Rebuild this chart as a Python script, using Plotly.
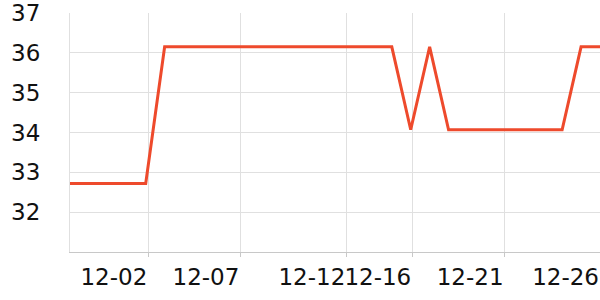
import plotly.graph_objects as go
import pandas as pd

dates = pd.date_range("2023-11-28", "2023-12-26", freq="D").strftime("%Y-%m-%d").tolist()
values = [32.72, 32.72, 32.72, 32.72, 32.72,
          36.15, 36.15, 36.15, 36.15, 36.15, 36.15, 36.15, 36.15, 36.15, 36.15, 36.15, 36.15, 36.15,
          34.07, 36.15, 34.07,
          34.07, 34.07, 34.07, 34.07, 34.07, 34.07,
          36.15, 36.15]

tick_times = ["2023-12-02 03:17", "2023-12-07 00:00", "2023-12-12 14:20",
              "2023-12-16 01:55", "2023-12-20 23:00", "2023-12-26 00:00"]
tick_labels = ["12-02", "12-07", "12-12", "12-16", "12-21", "12-26"]
y_ticks = [32, 33, 34, 35, 36, 37]

fig = go.Figure()
fig.add_trace(go.Scatter(
    x=dates, y=values, mode="lines",
    line=dict(color="#ee4a2c", width=3),
    hoverinfo="skip", showlegend=False,
))

font = dict(family="DejaVu Sans", size=23, color="#111111")
fig.update_layout(
    width=600, height=300,
    margin=dict(l=70, r=0, t=10, b=48),
    paper_bgcolor="white", plot_bgcolor="white",
    font=font,
)
fig.update_xaxes(
    type="date",
    range=[dates[0], dates[-1]],
    tickvals=tick_times, ticktext=tick_labels,
    ticklabelposition="outside left", tickangle=0,
    ticklabeloverflow="allow",
    showgrid=True, gridcolor="#e0e0e0", gridwidth=1,
    showline=True, linecolor="#c8c8c8", linewidth=1,
    ticks="outside", ticklen=4, tickcolor="#c8c8c8",
    zeroline=False, tickfont=font, ticklabelstandoff=4,
)
fig.update_yaxes(
    range=[31, 37],
    tickvals=y_ticks,
    ticklabeloverflow="allow",
    showgrid=True, gridcolor="#e0e0e0", gridwidth=1,
    showline=True, linecolor="#e0e0e0", linewidth=1,
    ticks="", zeroline=False, tickfont=font,
    ticklabelstandoff=24,
)

fig.write_html("out.html")
